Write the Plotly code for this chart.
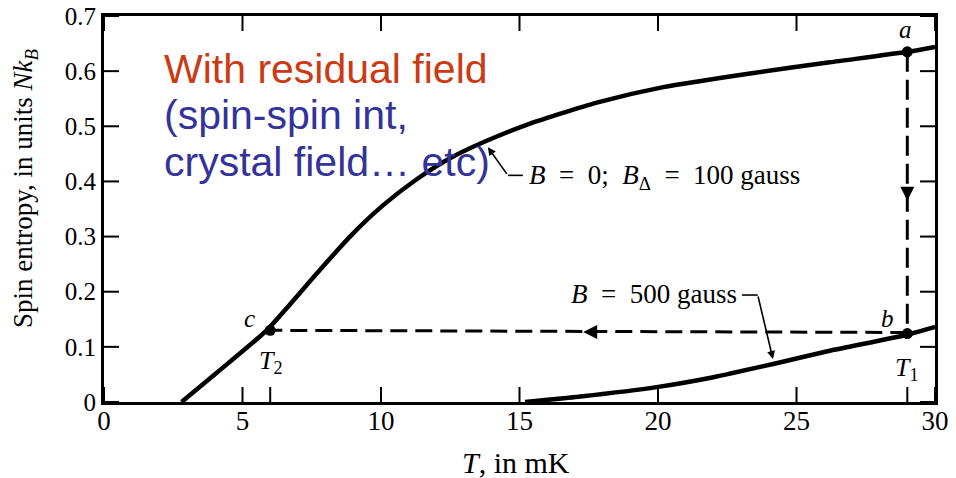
import plotly.graph_objects as go

# ---------------- data ----------------
T_zero_field = [2.8, 4.07, 5.87, 7.68, 8.88, 10.08, 11.29, 12.49, 13.69, 15.38, 17.79, 20.19, 23.2, 26.2, 29.0, 30.0]
S_zero_field = [0.0, 0.053, 0.13, 0.233, 0.300, 0.357, 0.404, 0.442, 0.471, 0.505, 0.543, 0.571, 0.595, 0.616, 0.635, 0.644]

T_500 = [15.2, 17.2, 19.95, 22.0, 24.16, 26.2, 29.0, 30.0]
S_500 = [0.0, 0.010, 0.027, 0.045, 0.069, 0.093, 0.122, 0.136]

# process points a -> b -> c
pt_names = ["a", "b", "c"]
pt_T = [29.0, 29.0, 6.0]
pt_S = [0.635, 0.124, 0.13]

x_ticks = [0, 5, 10, 15, 20, 25, 30]
y_ticks = [0, 0.1, 0.2, 0.3, 0.4, 0.5, 0.6, 0.7]
y_tick_text = ["0", "0.1", "0.2", "0.3", "0.4", "0.5", "0.6", "0.7"]
special_T = [6, 29]  # T2, T1

arrow_down_pos = (29.0, 0.365)
arrow_left_pos = (17.3, 0.127)

X_RANGE = [0, 30]
Y_RANGE = [0, 0.7]

SERIF = "Times New Roman, Liberation Serif, serif"
SANS = "Arial, Liberation Sans, sans-serif"

L, R, Tm, B = 104, 21, 16, 76
W, H = 956, 478
pw, ph = W - L - R, H - Tm - B

fig = go.Figure()

# inside tick marks (15 px) drawn as a line trace along the frame
TICKLEN = 15
dx = TICKLEN / pw * (X_RANGE[1] - X_RANGE[0])
dy = TICKLEN / ph * (Y_RANGE[1] - Y_RANGE[0])
tx, ty = [], []
for xv in x_ticks + special_T:
    tx += [xv, xv, None]
    ty += [Y_RANGE[0], Y_RANGE[0] + dy, None]
for xv in x_ticks:
    tx += [xv, xv, None]
    ty += [Y_RANGE[1], Y_RANGE[1] - dy, None]
for yv in y_ticks:
    tx += [X_RANGE[0], X_RANGE[0] + dx, None, X_RANGE[1], X_RANGE[1] - dx, None]
    ty += [yv, yv, None, yv, yv, None]
fig.add_trace(go.Scatter(x=tx, y=ty, mode="lines", connectgaps=False,
                         line=dict(color="black", width=2), hoverinfo="skip"))

# curves
curve_line = dict(color="black", width=4.5, shape="spline", smoothing=0.6)
fig.add_trace(go.Scatter(x=T_zero_field, y=S_zero_field, mode="lines",
                         line=curve_line, hoverinfo="skip"))
fig.add_trace(go.Scatter(x=T_500, y=S_500, mode="lines",
                         line=curve_line, hoverinfo="skip"))

# dashed process lines a->b (vertical) and b->c (horizontal)
fig.add_trace(go.Scatter(x=[pt_T[0], pt_T[1]], y=[pt_S[0], pt_S[1]], mode="lines",
                         line=dict(color="black", width=3, dash="20px,8px"), hoverinfo="skip"))
fig.add_trace(go.Scatter(x=[pt_T[1], pt_T[2]], y=[0.126, pt_S[2]], mode="lines",
                         line=dict(color="black", width=3, dash="17px,8px"), hoverinfo="skip"))

# arrowheads on dashed lines
fig.add_trace(go.Scatter(x=[arrow_down_pos[0]], y=[arrow_down_pos[1]], mode="markers",
                         marker=dict(symbol="arrow-down", size=14, color="black"), hoverinfo="skip"))
fig.add_trace(go.Scatter(x=[arrow_left_pos[0]], y=[arrow_left_pos[1]], mode="markers",
                         marker=dict(symbol="arrow-left", size=14, color="black"), hoverinfo="skip"))

# points
fig.add_trace(go.Scatter(x=pt_T, y=pt_S, mode="markers",
                         marker=dict(color="black", size=11), hoverinfo="skip"))

ann = []
# point labels
lab_font = dict(family=SERIF, size=25, color="black")
ann.append(dict(x=28.95, y=0.676, text="<i>a</i>", showarrow=False, font=lab_font))
ann.append(dict(x=28.3, y=0.151, text="<i>b</i>", showarrow=False, font=lab_font))
ann.append(dict(x=5.27, y=0.152, text="<i>c</i>", showarrow=False, font=lab_font))
ann.append(dict(x=29.0, y=0.060, text="<i>T</i><sub>1</sub>", showarrow=False,
                font=dict(family=SERIF, size=26, color="black")))
ann.append(dict(x=6.03, y=0.073, text="<i>T</i><sub>2</sub>", showarrow=False,
                font=dict(family=SERIF, size=26, color="black")))

# curve labels
ann.append(dict(x=15.27, y=0.4076, xanchor="left", showarrow=False,
                text="<i>B</i>  =  0;  <i>B</i><sub>Δ</sub>  =  100 gauss",
                font=dict(family=SERIF, size=27, color="black")))
ann.append(dict(x=22.92, y=0.1957, xanchor="right", showarrow=False,
                text="<i>B</i>  =  500 gauss",
                font=dict(family=SERIF, size=27, color="black")))

# leader arrows
ann.append(dict(x=13.86, y=0.462, ax=14.58, ay=0.411, axref="x", ayref="y",
                text="", showarrow=True, arrowhead=2, arrowsize=1, arrowwidth=1.6, arrowcolor="black"))
ann.append(dict(x=24.15, y=0.078, ax=23.6, ay=0.194, axref="x", ayref="y",
                text="", showarrow=True, arrowhead=2, arrowsize=1, arrowwidth=1.6, arrowcolor="black"))

# overlay text
ann.append(dict(x=162, y=69, xref="paper", yref="paper", text="With residual field",
                showarrow=False, xanchor="left", yanchor="middle",
                font=dict(family=SANS, size=41, color="#CC3A14")))
ann.append(dict(x=162, y=115, xref="paper", yref="paper", text="(spin-spin int,",
                showarrow=False, xanchor="left", yanchor="middle",
                font=dict(family=SANS, size=41, color="#333399")))
ann.append(dict(x=162, y=162, xref="paper", yref="paper", text="crystal field… etc)",
                showarrow=False, xanchor="left", yanchor="middle",
                font=dict(family=SANS, size=41, color="#333399")))

# axis titles
ann.append(dict(x=25, y=188, xref="paper", yref="paper", textangle=-90,
                xanchor="center", yanchor="middle",
                text="Spin entropy, in units <i>Nk</i><sub><i>B</i></sub>",
                showarrow=False, font=dict(family=SERIF, size=27, color="black")))
ann.append(dict(x=516, y=462, xref="paper", yref="paper",
                xanchor="center", yanchor="middle",
                text="<i>T</i>, in mK", showarrow=False,
                font=dict(family=SERIF, size=30, color="black")))

# convert pixel-specified paper annotations
for a in ann:
    if a.get("xref") == "paper":
        a["x"] = (a["x"] - L) / pw
        a["y"] = (H - B - a["y"]) / ph

# short horizontal tails of leader lines
shapes = [
    dict(type="line", x0=14.58, x1=15.12, y0=0.411, y1=0.411, xref="x", yref="y",
         line=dict(color="black", width=1.6)),
    dict(type="line", x0=23.03, x1=23.6, y0=0.194, y1=0.194, xref="x", yref="y",
         line=dict(color="black", width=1.6)),
]

fig.update_layout(
    template="none",
    width=W, height=H,
    margin=dict(l=L, r=R, t=Tm, b=B, autoexpand=False),
    paper_bgcolor="white", plot_bgcolor="white",
    showlegend=False,
    annotations=ann,
    shapes=shapes,
    xaxis=dict(range=X_RANGE, tickmode="array", tickvals=x_ticks, ticks="",
               showline=True, linewidth=3, linecolor="black",
               mirror=True, showgrid=False, zeroline=False, automargin=False,
               ticklabelstandoff=-7,
               tickfont=dict(family=SERIF, size=27, color="black")),
    yaxis=dict(range=Y_RANGE, tickmode="array", tickvals=y_ticks, ticktext=y_tick_text,
               ticks="", showline=True, linewidth=3, linecolor="black", mirror=True,
               showgrid=False, zeroline=False, automargin=False,
               tickfont=dict(family=SERIF, size=25, color="black")),
)

fig.write_html("out.html", config={"displayModeBar": False},
               post_script="document.body.style.margin='0px';document.body.style.overflow='hidden';")
